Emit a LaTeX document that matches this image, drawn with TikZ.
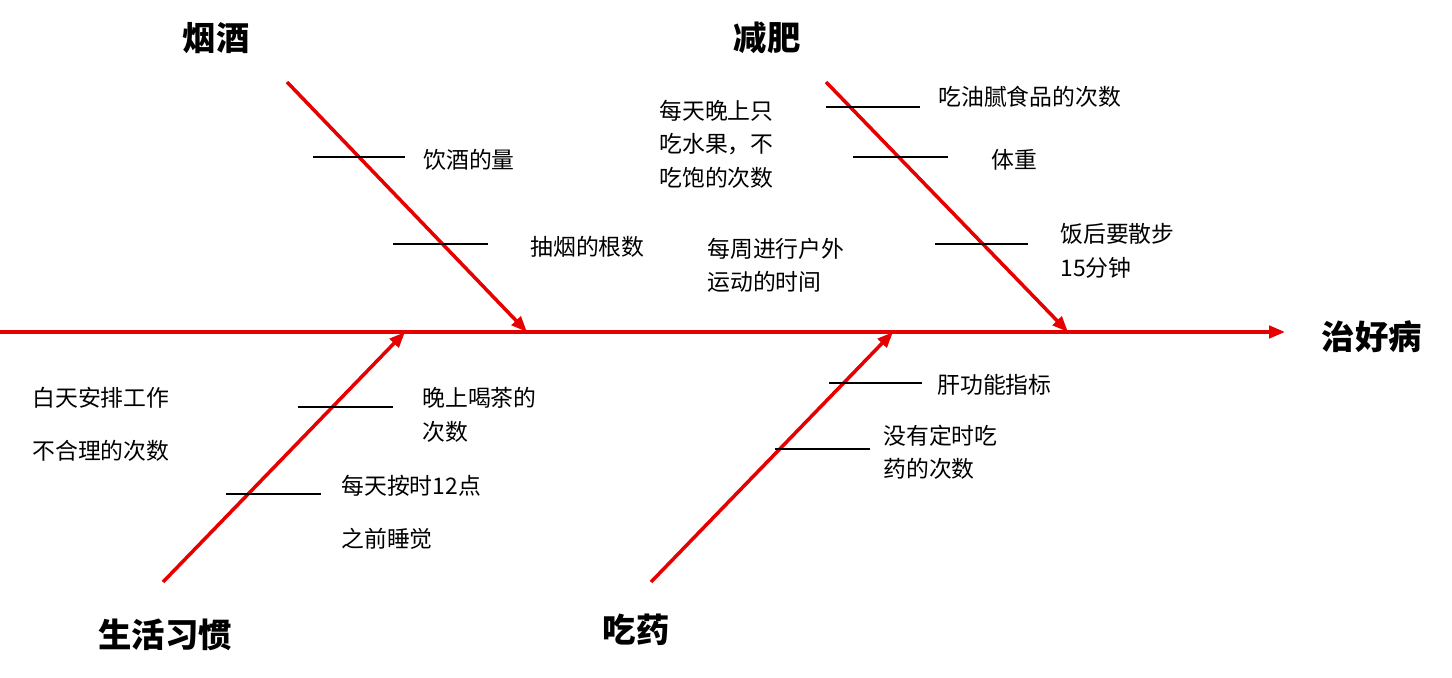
\documentclass[tikz,border=0pt]{standalone}
\usepackage{fontspec}
\setmainfont{Noto Sans CJK SC}
\usetikzlibrary{arrows.meta}
\definecolor{bonered}{RGB}{230,0,0}
\tikzset{
  bone/.style={draw=bonered, line width=2pt, -{Triangle[length=9pt,width=7pt]}},
  tick/.style={draw=black, line width=0.7pt},
  cause/.style={font=\fontsize{13}{19}\selectfont, align=left, anchor=west, inner sep=0pt},
  head/.style={font=\fontsize{19}{22}\selectfont\bfseries, inner sep=0pt}
}
\begin{document}
\begin{tikzpicture}[x=0.02cm, y=-0.02cm]
  \useasboundingbox (0,0) rectangle (1452,678);
  % spine
  \coordinate (s0) at (0,332);
  \coordinate (s1) at (1285,332);
  \draw[bone] (s0) -- (s1);
  \node[head] (goal) at (1372,337) {治好病};
  % bones
  \coordinate (b1) at (287,82);  \coordinate (e1) at (527,332);
  \coordinate (b2) at (826,82);  \coordinate (e2) at (1068,332);
  \coordinate (b3) at (163,582); \coordinate (e3) at (405,332);
  \coordinate (b4) at (651,582); \coordinate (e4) at (893,332);
  \draw[bone] (b1) -- (e1);
  \draw[bone] (b2) -- (e2);
  \draw[bone] (b3) -- (e3);
  \draw[bone] (b4) -- (e4);
  \node[head] (h1) at (216,38) {烟酒};
  \node[head] (h2) at (767,38) {减肥};
  \node[head] (h3) at (165,635) {生活习惯};
  \node[head] (h4) at (636,630) {吃药};
  % small ticks
  \coordinate (t1a) at (313,157); \coordinate (t1b) at (405,157);
  \coordinate (t2a) at (393,244); \coordinate (t2b) at (488,244);
  \coordinate (t3a) at (826,107); \coordinate (t3b) at (920,107);
  \coordinate (t4a) at (853,157); \coordinate (t4b) at (948,157);
  \coordinate (t5a) at (935,244); \coordinate (t5b) at (1028,244);
  \coordinate (t6a) at (298,407); \coordinate (t6b) at (393,407);
  \coordinate (t7a) at (226,494); \coordinate (t7b) at (321,494);
  \coordinate (t8a) at (829,383); \coordinate (t8b) at (922,383);
  \coordinate (t9a) at (775,449); \coordinate (t9b) at (870,449);
  \foreach \t in {1,...,9}
    \draw[tick] (t\t a) -- (t\t b);
  % causes
  \node[cause] (c1) at (423,160) {饮酒的量};
  \node[cause] (c2) at (530,247) {抽烟的根数};
  \node[cause] (c3) at (938,97) {吃油腻食品的次数};
  \node[cause] (c4) at (991,160) {体重};
  \node[cause] (c5) at (1060,251) {饭后要散步\\15分钟};
  \node[cause] (c6) at (659,144) {每天晚上只\\吃水果，不\\吃饱的次数};
  \node[cause] (c7) at (707,265) {每周进行户外\\运动的时间};
  \node[cause] (c8) at (422,415) {晚上喝茶的\\次数};
  \node[cause, font=\fontsize{13}{30}\selectfont] (c9) at (32,424) {白天安排工作\\不合理的次数};
  \node[cause, font=\fontsize{13}{30}\selectfont] (c10) at (341,512) {每天按时12点\\之前睡觉};
  \node[cause] (c11) at (937,385) {肝功能指标};
  \node[cause] (c12) at (883,452) {没有定时吃\\药的次数};
\end{tikzpicture}
\end{document}
